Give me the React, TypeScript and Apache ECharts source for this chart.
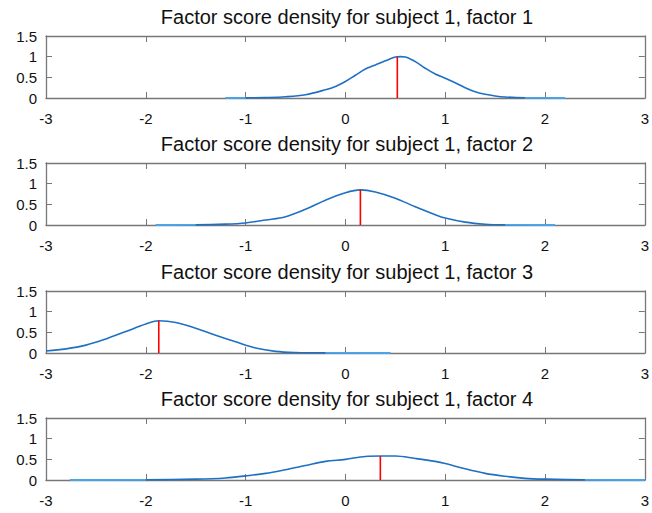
import React, { useEffect, useRef } from "react";
import * as echarts from "echarts";

const TITLES = [
  "Factor score density for subject 1, factor 1",
  "Factor score density for subject 1, factor 2",
  "Factor score density for subject 1, factor 3",
  "Factor score density for subject 1, factor 4",
];

const X1 = [-1.2, -1.0, -0.8, -0.6, -0.4, -0.2, -0.1, 0, 0.1, 0.2, 0.3, 0.4, 0.5, 0.55, 0.6, 0.7, 0.8, 0.9, 1.0, 1.1, 1.2, 1.3, 1.4, 1.5, 1.6, 1.8, 2.0, 2.2];
const D1 = [0, 0.002, 0.01, 0.03, 0.08, 0.2, 0.28, 0.4, 0.55, 0.7, 0.8, 0.9, 0.99, 1.0, 0.99, 0.88, 0.72, 0.58, 0.48, 0.37, 0.25, 0.15, 0.09, 0.05, 0.025, 0.005, 0.001, 0];

const X2 = [-1.9, -1.5, -1.2, -1.0, -0.8, -0.6, -0.4, -0.2, 0, 0.15, 0.3, 0.5, 0.7, 0.9, 1.0, 1.2, 1.4, 1.6, 2.1];
const D2 = [0, 0.003, 0.02, 0.05, 0.12, 0.2, 0.38, 0.6, 0.78, 0.85, 0.8, 0.65, 0.44, 0.25, 0.17, 0.07, 0.02, 0.005, 0];

const X3 = [-3.0, -2.8, -2.6, -2.4, -2.2, -2.0, -1.87, -1.7, -1.5, -1.3, -1.1, -0.9, -0.7, -0.5, -0.2, 0.45];
const D3 = [0.05, 0.1, 0.19, 0.34, 0.52, 0.7, 0.78, 0.74, 0.6, 0.43, 0.27, 0.12, 0.04, 0.012, 0.002, 0];

const X4 = [-2.76, -2.0, -1.5, -1.2, -1.0, -0.8, -0.6, -0.4, -0.2, 0, 0.2, 0.35, 0.5, 0.7, 0.9, 1.0, 1.2, 1.4, 1.6, 1.8, 2.0, 2.4, 3.0];
const D4 = [0, 0.003, 0.02, 0.05, 0.1, 0.16, 0.25, 0.35, 0.45, 0.5, 0.57, 0.58, 0.58, 0.52, 0.45, 0.4, 0.27, 0.16, 0.09, 0.04, 0.02, 0.003, 0];

const XS = [X1, X2, X3, X4];
const DS = [D1, D2, D3, D4];

const MARK_X = [0.52, 0.15, -1.87, 0.35];
const MARK_Y = [1.0, 0.85, 0.78, 0.58];

const X_MIN = -3;
const X_MAX = 3;
const Y_MIN = 0;
const Y_MAX = 1.5;
const TAIL_LEVEL = 0.005;

export default function App() {
  const ref = useRef<HTMLDivElement>(null);
  useEffect(() => {
    if (!ref.current) return;
    const chart = echarts.init(ref.current, undefined, { renderer: "svg" });
    const tops = [36, 163, 291, 418];
    const gridH = 62;
    const axisColor = "#777777";
    const font = "Arial, 'Liberation Sans', sans-serif";
    const grids: any[] = [];
    const xAxes: any[] = [];
    const yAxes: any[] = [];
    const series: any[] = [];
    const titles: any[] = [];
    for (let i = 0; i < 4; i++) {
      grids.push({ left: 46, right: 3, top: tops[i], height: gridH, containLabel: false });
      titles.push({
        text: TITLES[i],
        left: 347,
        textAlign: "center",
        top: tops[i] - 29,
        padding: 0,
        textStyle: { fontFamily: font, fontSize: 20, fontWeight: "normal", color: "#111" },
      });
      const common = {
        type: "value",
        gridIndex: i,
        splitLine: { show: false },
        axisLine: { show: true, onZero: false, lineStyle: { color: axisColor, width: 1.3 } },
        axisTick: { show: true, inside: true, length: 6, lineStyle: { color: axisColor, width: 1 } },
      };
      xAxes.push({
        ...common,
        position: "bottom",
        min: X_MIN,
        max: X_MAX,
        interval: 1,
        axisLabel: { show: true, margin: 13, fontFamily: font, fontSize: 15, color: "#111" },
      });
      xAxes.push({
        ...common,
        position: "top",
        min: X_MIN,
        max: X_MAX,
        interval: 1,
        axisLabel: { show: false },
      });
      yAxes.push({
        ...common,
        position: "left",
        min: Y_MIN,
        max: Y_MAX,
        interval: 0.5,
        axisLabel: { show: true, margin: 9, fontFamily: font, fontSize: 15, color: "#111" },
      });
      yAxes.push({
        ...common,
        position: "right",
        min: Y_MIN,
        max: Y_MAX,
        interval: 0.5,
        axisLabel: { show: false },
      });
      const pts = XS[i].map((x, k) => [x, DS[i][k]]);
      series.push({
        type: "line",
        xAxisIndex: 2 * i,
        yAxisIndex: 2 * i,
        data: pts,
        smooth: 0.35,
        showSymbol: false,
        symbol: "none",
        lineStyle: { color: "#1f70c2", width: 1.6 },
        z: 3,
      });
      // light-blue flat tails (where the density lies on the axis)
      let a = 0;
      while (a < pts.length - 1 && pts[a + 1][1] <= TAIL_LEVEL) a++;
      let b = pts.length - 1;
      while (b > 0 && pts[b - 1][1] <= TAIL_LEVEL) b--;
      const leftTail = a > 0 ? pts.slice(0, a + 1) : [];
      const rightTail = b < pts.length - 1 ? pts.slice(b) : [];
      [leftTail, rightTail].forEach((tail) => {
        if (tail.length < 2) return;
        series.push({
          type: "line",
          xAxisIndex: 2 * i,
          yAxisIndex: 2 * i,
          data: tail,
          showSymbol: false,
          symbol: "none",
          lineStyle: { color: "#4aa6ea", width: 1.8 },
          z: 3.5,
        });
      });
      series.push({
        type: "line",
        xAxisIndex: 2 * i,
        yAxisIndex: 2 * i,
        data: [
          [MARK_X[i], 0],
          [MARK_X[i], MARK_Y[i]],
        ],
        showSymbol: false,
        symbol: "none",
        lineStyle: { color: "#ff0000", width: 1.6 },
        z: 4,
      });
    }
    chart.setOption({
      animation: false,
      backgroundColor: "#ffffff",
      title: titles,
      grid: grids,
      xAxis: xAxes,
      yAxis: yAxes,
      series,
    });
    return () => chart.dispose();
  }, []);
  return (
    <div
      ref={ref}
      style={{ position: "fixed", left: 0, top: 0, width: 652, height: 513, background: "#fff" }}
    />
  );
}
